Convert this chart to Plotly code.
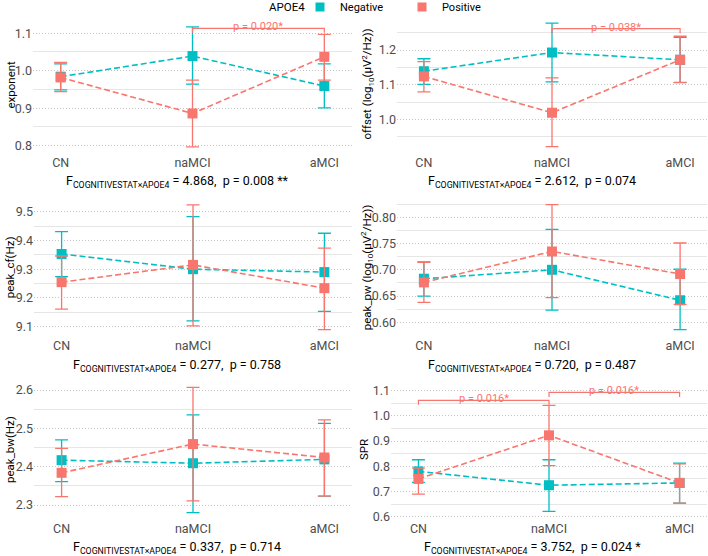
import plotly.graph_objects as go

categories = ["CN", "naMCI", "aMCI"]
groups = ["Negative", "Positive"]
group_colors = {"Negative": "#00BFC4", "Positive": "#F8766D"}

# ---- exponent ----
exponent_neg = [0.984, 1.039, 0.959]
exponent_neg_lo = [0.949, 0.964, 0.901]
exponent_neg_hi = [1.018, 1.117, 1.018]
exponent_pos = [0.982, 0.886, 1.037]
exponent_pos_lo = [0.944, 0.797, 0.975]
exponent_pos_hi = [1.022, 0.975, 1.097]

# ---- offset ----
offset_neg = [1.139, 1.193, 1.172]
offset_neg_lo = [1.101, 1.108, 1.107]
offset_neg_hi = [1.175, 1.278, 1.237]
offset_pos = [1.124, 1.019, 1.172]
offset_pos_lo = [1.079, 0.921, 1.106]
offset_pos_hi = [1.167, 1.120, 1.240]

# ---- peak_cf ----
cf_neg = [9.353, 9.300, 9.290]
cf_neg_lo = [9.274, 9.120, 9.153]
cf_neg_hi = [9.431, 9.483, 9.425]
cf_pos = [9.255, 9.315, 9.234]
cf_pos_lo = [9.161, 9.103, 9.090]
cf_pos_hi = [9.346, 9.524, 9.373]

# ---- peak_pw ----
pw_neg = [0.683, 0.700, 0.642]
pw_neg_lo = [0.650, 0.623, 0.586]
pw_neg_hi = [0.715, 0.777, 0.701]
pw_pos = [0.676, 0.735, 0.692]
pw_pos_lo = [0.638, 0.647, 0.634]
pw_pos_hi = [0.714, 0.824, 0.751]

# ---- peak_bw ----
bw_neg = [2.417, 2.409, 2.419]
bw_neg_lo = [2.361, 2.280, 2.323]
bw_neg_hi = [2.470, 2.535, 2.513]
bw_pos = [2.384, 2.459, 2.424]
bw_pos_lo = [2.322, 2.311, 2.323]
bw_pos_hi = [2.448, 2.607, 2.522]

# ---- SPR ----
spr_neg = [0.780, 0.725, 0.734]
spr_neg_lo = [0.736, 0.621, 0.654]
spr_neg_hi = [0.826, 0.826, 0.813]
spr_pos = [0.750, 0.923, 0.734]
spr_pos_lo = [0.690, 0.803, 0.654]
spr_pos_hi = [0.793, 1.042, 0.810]

# significance brackets: (from category, to category, y, label)
exponent_brackets = [("naMCI", "aMCI", 1.113, "p = 0.020*")]
offset_brackets = [("naMCI", "aMCI", 1.262, "p = 0.038*")]
spr_brackets = [("CN", "naMCI", 1.062, "p = 0.016*"), ("naMCI", "aMCI", 1.093, "p = 0.016*")]

# F-test captions
exponent_stat = ("4.868", "0.008 **")
offset_stat = ("2.612", "0.074")
cf_stat = ("0.277", "0.758")
pw_stat = ("0.720", "0.487")
bw_stat = ("0.337", "0.714")
spr_stat = ("3.752", "0.024 *")

legend_title = "APOE4"

W, H = 708, 556

panels = [
    dict(title="exponent", data={"Negative": (exponent_neg, exponent_neg_lo, exponent_neg_hi),
                                 "Positive": (exponent_pos, exponent_pos_lo, exponent_pos_hi)},
         brackets=exponent_brackets, stat=exponent_stat, col=0, row=0,
         yrange=[0.7805, 1.1459], dtick=0.1, fmt=".1f"),
    dict(title="offset (log<sub>10</sub>(μV<sup>2</sup>/Hz))",
         data={"Negative": (offset_neg, offset_neg_lo, offset_neg_hi),
               "Positive": (offset_pos, offset_pos_lo, offset_pos_hi)},
         brackets=offset_brackets, stat=offset_stat, col=1, row=0,
         yrange=[0.9026, 1.2986], dtick=0.1, fmt=".1f"),
    dict(title="peak_cf(Hz)", data={"Negative": (cf_neg, cf_neg_lo, cf_neg_hi),
                                    "Positive": (cf_pos, cf_pos_lo, cf_pos_hi)},
         brackets=[], stat=cf_stat, col=0, row=1,
         yrange=[9.0677, 9.5459], dtick=0.1, fmt=".1f"),
    dict(title="peak_pw (log<sub>10</sub>(μV<sup>2</sup>/Hz))",
         data={"Negative": (pw_neg, pw_neg_lo, pw_neg_hi),
               "Positive": (pw_pos, pw_pos_lo, pw_pos_hi)},
         brackets=[], stat=pw_stat, col=1, row=1,
         yrange=[0.5739, 0.8358], dtick=0.05, fmt=".2f"),
    dict(title="peak_bw(Hz)", data={"Negative": (bw_neg, bw_neg_lo, bw_neg_hi),
                                    "Positive": (bw_pos, bw_pos_lo, bw_pos_hi)},
         brackets=[], stat=bw_stat, col=0, row=2,
         yrange=[2.2635, 2.6235], dtick=0.1, fmt=".1f"),
    dict(title="SPR", data={"Negative": (spr_neg, spr_neg_lo, spr_neg_hi),
                            "Positive": (spr_pos, spr_pos_lo, spr_pos_hi)},
         brackets=spr_brackets, stat=spr_stat, col=1, row=2,
         yrange=[0.5909, 1.1385], dtick=0.1, fmt=".1f"),
]

# layout geometry (pixels)
col_px = [[(33, 352), (397, 707)], [(34, 352), (397, 707)], [(34, 352), (391, 707)]]
row_px = [(16, 153), (198.5, 336), (381, 519)]
ytitle_x = [[10, 367], [10, 367], [10, 364]]
stat_x = [177, 532]
stat_y = [182, 365, 547]

fig = go.Figure()
layout = dict(template="none", width=W, height=H, margin=dict(l=0, r=0, t=0, b=0, autoexpand=False),
              plot_bgcolor="white", paper_bgcolor="white",
              font=dict(family="Roboto, Liberation Sans, Arial", size=12, color="#4D4D4D"),
              showlegend=True)
annotations = []
xidx = list(range(len(categories)))

for i, p in enumerate(panels):
    n = i + 1
    xa = "x" if n == 1 else f"x{n}"
    ya = "y" if n == 1 else f"y{n}"
    c0, c1 = col_px[p["row"]][p["col"]]
    r0, r1 = row_px[p["row"]]
    layout[f"xaxis{n if n > 1 else ''}"] = dict(
        domain=[c0 / W, c1 / W], anchor=ya, range=[-0.21, len(categories) - 1 + 0.21],
        tickvals=xidx, ticktext=categories, showgrid=False, zeroline=False, showline=False,
        ticks="", automargin=False, tickfont=dict(size=12.5, color="#4D4D4D"), fixedrange=True)
    half = p["dtick"] / 2
    layout[f"yaxis{n if n > 1 else ''}"] = dict(
        domain=[1 - r1 / H, 1 - r0 / H], anchor=xa, range=p["yrange"],
        tick0=0, dtick=p["dtick"], tickformat=p["fmt"], showgrid=True,
        gridcolor="#C4C4C4", griddash="1px,2px", gridwidth=1,
        minor=dict(dtick=half, tick0=0, showgrid=True, gridcolor="#E6E6E6", griddash="solid", gridwidth=1),
        zeroline=False, showline=False, ticks="", automargin=False,
        tickfont=dict(size=12.5, color="#4D4D4D"), fixedrange=True)
    span = p["yrange"][1] - p["yrange"][0]
    for g in groups:
        m, lo, hi = p["data"][g]
        col = group_colors[g]
        fig.add_trace(go.Scatter(
            x=xidx, y=m, xaxis=xa, yaxis=ya, mode="lines+markers", showlegend=False,
            line=dict(color=col, width=1.6, dash="6px,3px"),
            marker=dict(symbol="square", size=10, color=col, line=dict(width=0)),
            error_y=dict(type="data", symmetric=False,
                         array=[h - v for h, v in zip(hi, m)],
                         arrayminus=[v - l for v, l in zip(m, lo)],
                         color=col, thickness=1.3, width=6.5)))
    for (a, b, yv, lab) in p["brackets"]:
        xa_i, xb_i = categories.index(a), categories.index(b)
        tip = 0.033 * span
        fig.add_trace(go.Scatter(
            x=[xa_i, xa_i, xb_i, xb_i], y=[yv - tip, yv, yv, yv - tip], xaxis=xa, yaxis=ya,
            mode="lines", showlegend=False, hoverinfo="skip",
            line=dict(color=group_colors["Positive"], width=1.2)))
        annotations.append(dict(x=(xa_i + xb_i) / 2, y=yv, xref=xa, yref=ya, text=lab,
                                showarrow=False, yanchor="bottom", yshift=-7,
                                font=dict(size=11, color=group_colors["Positive"])))
    # y title
    annotations.append(dict(x=ytitle_x[p["row"]][p["col"]] / W, y=1 - (r0 + r1) / 2 / H,
                            xref="paper", yref="paper", text=p["title"], textangle=-90,
                            showarrow=False, xanchor="center", yanchor="middle",
                            font=dict(size=11.5, color="black")))
    fval, pval = p["stat"]
    annotations.append(dict(x=stat_x[p["col"]] / W, y=1 - stat_y[p["row"]] / H,
                            xref="paper", yref="paper",
                            text=f"F<sub>COGNITIVESTAT×APOE4</sub> = {fval},  p = {pval}",
                            showarrow=False, xanchor="center", yanchor="middle",
                            font=dict(size=12.5, color="black")))

# legend title as text, legend entries
annotations.append(dict(x=267 / W, y=1 - 7 / H, xref="paper", yref="paper", text=legend_title,
                        showarrow=False, xanchor="left", yanchor="middle",
                        font=dict(size=11.5, color="black")))
for g in groups:
    fig.add_trace(go.Scatter(x=[None], y=[None], mode="markers", name=g,
                             marker=dict(symbol="square", size=9, color=group_colors[g])))

layout["legend"] = dict(orientation="h", x=300 / W, xanchor="left", xref="container",
                        y=1 - 7 / H, yanchor="middle", yref="container",
                        font=dict(size=11, color="black"), itemwidth=30, entrywidth=57,
                        tracegroupgap=0, bgcolor="rgba(0,0,0,0)")
layout["annotations"] = annotations
fig.update_layout(**layout)
fig.write_html("out.html")
